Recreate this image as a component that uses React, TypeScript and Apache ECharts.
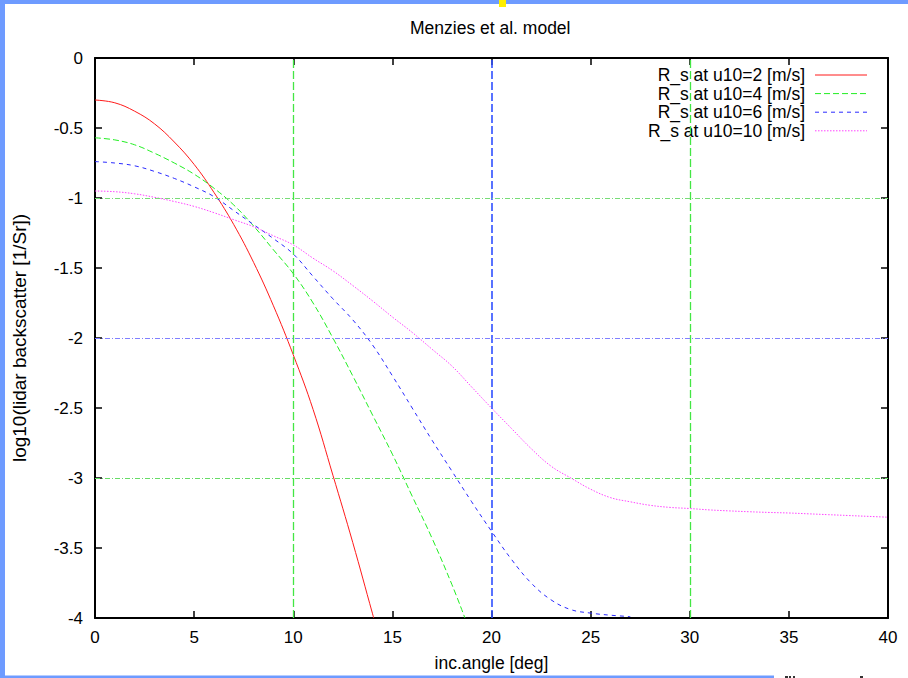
import React, { useEffect, useRef } from "react";
import * as echarts from "echarts";

const chartTitle = "Menzies et al. model";
const xAxisName = "inc.angle [deg]";
const yAxisName = "log10(lidar backscatter [1/Sr])";
const seriesNames = [
  "R_s at u10=2 [m/s]",
  "R_s at u10=4 [m/s]",
  "R_s at u10=6 [m/s]",
  "R_s at u10=10 [m/s]",
];

const redAngles = [0, 1, 2, 3, 4, 5, 6, 7, 8, 9, 10, 11, 12, 13, 14, 14.06];
const redValues = [-0.3, -0.32, -0.38, -0.47, -0.6, -0.76, -0.96, -1.19, -1.46, -1.77, -2.12, -2.51, -2.98, -3.46, -3.97, -4.0];

const greenAngles = [0, 1, 2, 3, 4, 5, 6, 7, 8, 9, 10, 11, 12, 13, 14, 15, 16, 17, 18, 18.66];
const greenValues = [-0.57, -0.585, -0.62, -0.68, -0.75, -0.83, -0.93, -1.05, -1.2, -1.37, -1.54, -1.75, -2.0, -2.27, -2.55, -2.83, -3.13, -3.43, -3.76, -4.0];

const blueAngles = [0, 1, 2, 3, 4, 5, 6, 7, 8, 9, 10, 11, 12, 13, 14, 15, 16, 17, 18, 19, 20, 21, 22, 23, 24, 25, 26, 27];
const blueValues = [-0.74, -0.75, -0.77, -0.81, -0.86, -0.92, -0.99, -1.09, -1.19, -1.29, -1.4, -1.56, -1.72, -1.87, -2.05, -2.27, -2.5, -2.73, -2.95, -3.17, -3.38, -3.58, -3.75, -3.87, -3.94, -3.965, -3.98, -3.99];

const magentaAngles = [0, 1, 2, 3, 4, 5, 6, 7, 8, 9, 10, 11, 12, 13, 14, 15, 16, 17, 18, 19, 20, 21, 22, 23, 24, 25, 26, 27, 28, 29, 30, 31, 32, 33, 34, 35, 36, 37, 38, 39, 40];
const magentaValues = [-0.95, -0.955, -0.97, -0.995, -1.025, -1.06, -1.105, -1.155, -1.205, -1.27, -1.335, -1.43, -1.52, -1.625, -1.735, -1.85, -1.96, -2.08, -2.2, -2.35, -2.5, -2.645, -2.79, -2.915, -3.0, -3.08, -3.14, -3.17, -3.195, -3.21, -3.218, -3.228, -3.235, -3.241, -3.246, -3.25, -3.256, -3.262, -3.268, -3.274, -3.28];

const gridXValues = [10, 20, 30];
const gridYValues = [-1, -2, -3];

const FONT = "Liberation Sans, Arial, Helvetica, sans-serif";

function pairs(xs: number[], ys: number[]) {
  return xs.map((x, i) => [x, ys[i]]);
}

export default function App() {
  const ref = useRef<HTMLDivElement>(null);
  useEffect(() => {
    if (!ref.current) return;
    const chart = echarts.init(ref.current, undefined, { renderer: "svg" });
    const colors = ["#ff1a1a", "#22ee22", "#2a2aff", "#ff44ff"];
    const dashes: any[] = ["solid", [6, 3], [4, 4], [1.5, 1.5]];
    const datasets = [
      pairs(redAngles, redValues),
      pairs(greenAngles, greenValues),
      pairs(blueAngles, blueValues),
      pairs(magentaAngles, magentaValues),
    ];
    const gridXColors = ["#44e644", "#3050ff", "#44e644"];
    const gridXWidths = [1.3, 1.6, 1.3];
    const gridYColors = ["#77dd77", "#8080ff", "#66dd66"];

    const axisCommon = {
      axisLine: { show: true, onZero: false, lineStyle: { color: "#000", width: 2 } },
      axisTick: { show: true, inside: true, length: 7, lineStyle: { color: "#000", width: 1.5 } },
      splitLine: { show: false },
    };

    const series: any[] = datasets.map((d, i) => ({
      name: seriesNames[i],
      type: "line",
      data: d,
      showSymbol: false,
      symbol: "none",
      smooth: 0.4,
      clip: true,
      lineStyle: { color: colors[i], width: 1, type: dashes[i] },
      itemStyle: { color: colors[i] },
      z: 3,
    }));
    series.push({
      name: "grid",
      type: "line",
      data: [],
      silent: true,
      markLine: {
        silent: true,
        symbol: "none",
        label: { show: false },
        animation: false,
        data: [
          ...gridXValues.map((v, i) => ({
            xAxis: v,
            lineStyle: { color: gridXColors[i], width: gridXWidths[i], type: [8, 3] },
          })),
          ...gridYValues.map((v, i) => ({
            yAxis: v,
            lineStyle: { color: gridYColors[i], width: 1, type: [5, 2, 1, 2] },
          })),
        ],
      },
      z: 1,
    });

    const legendRight = 805;
    const legendLineX1 = 815;
    const legendLineX2 = 867;
    const legendTop = 75;
    const legendStep = 18.6;
    const legendGraphics: any[] = [];
    seriesNames.forEach((n, i) => {
      const y = legendTop + i * legendStep;
      legendGraphics.push({
        type: "text",
        x: legendRight,
        y,
        silent: true,
        style: {
          text: n,
          align: "right",
          verticalAlign: "middle",
          fontSize: 17.5,
          fontFamily: FONT,
          fill: "#000",
        },
      });
      legendGraphics.push({
        type: "line",
        silent: true,
        shape: { x1: legendLineX1, y1: y, x2: legendLineX2, y2: y },
        style: { stroke: colors[i], lineWidth: 1, lineDash: dashes[i] === "solid" ? null : dashes[i] },
      });
    });

    chart.setOption({
      animation: false,
      backgroundColor: "#ffffff",
      title: {
        text: chartTitle,
        left: 410,
        top: 19,
        padding: 0,
        textStyle: { fontSize: 17.5, fontWeight: "normal", color: "#000", fontFamily: FONT },
      },
      grid: { left: 95, right: 20, top: 58, bottom: 60 },
      xAxis: [
        {
          type: "value",
          min: 0,
          max: 40,
          interval: 5,
          position: "bottom",
          name: xAxisName,
          nameLocation: "middle",
          nameGap: 36,
          nameTextStyle: { fontSize: 17.5, color: "#000", fontFamily: FONT },
          axisLabel: { show: true, margin: 11, fontSize: 17, color: "#000", fontFamily: FONT },
          ...axisCommon,
        },
        {
          type: "value",
          min: 0,
          max: 40,
          interval: 5,
          position: "top",
          axisLabel: { show: false },
          ...axisCommon,
        },
      ],
      yAxis: [
        {
          type: "value",
          min: -4,
          max: 0,
          interval: 0.5,
          position: "left",
          name: yAxisName,
          nameLocation: "middle",
          nameGap: 66,
          nameTextStyle: { fontSize: 19, color: "#000", fontFamily: FONT },
          axisLabel: { show: true, margin: 12, fontSize: 17, color: "#000", fontFamily: FONT },
          ...axisCommon,
        },
        {
          type: "value",
          min: -4,
          max: 0,
          interval: 0.5,
          position: "right",
          axisLabel: { show: false },
          ...axisCommon,
        },
      ],
      series,
      graphic: [
        ...legendGraphics,
        { type: "rect", shape: { x: 0, y: 0, width: 908, height: 4 }, style: { fill: "#6e9bff" }, silent: true },
        { type: "rect", shape: { x: 0, y: 0, width: 5, height: 678 }, style: { fill: "#6e9bff" }, silent: true },
        { type: "rect", shape: { x: 0, y: 675.5, width: 774, height: 3 }, style: { fill: "#6e9bff" }, silent: true },
        { type: "rect", shape: { x: 499, y: 0, width: 7, height: 7 }, style: { fill: "#ffee00" }, silent: true },
        { type: "rect", shape: { x: 785, y: 676, width: 3, height: 2 }, style: { fill: "#333" }, silent: true },
        { type: "rect", shape: { x: 789, y: 676, width: 2, height: 2 }, style: { fill: "#333" }, silent: true },
        { type: "rect", shape: { x: 793, y: 676, width: 2, height: 2 }, style: { fill: "#333" }, silent: true },
        { type: "rect", shape: { x: 860, y: 676, width: 3, height: 2 }, style: { fill: "#333" }, silent: true },
      ],
    });
    return () => chart.dispose();
  }, []);
  return (
    <div
      ref={ref}
      style={{ position: "absolute", left: 0, top: 0, width: 908, height: 678 }}
    />
  );
}
